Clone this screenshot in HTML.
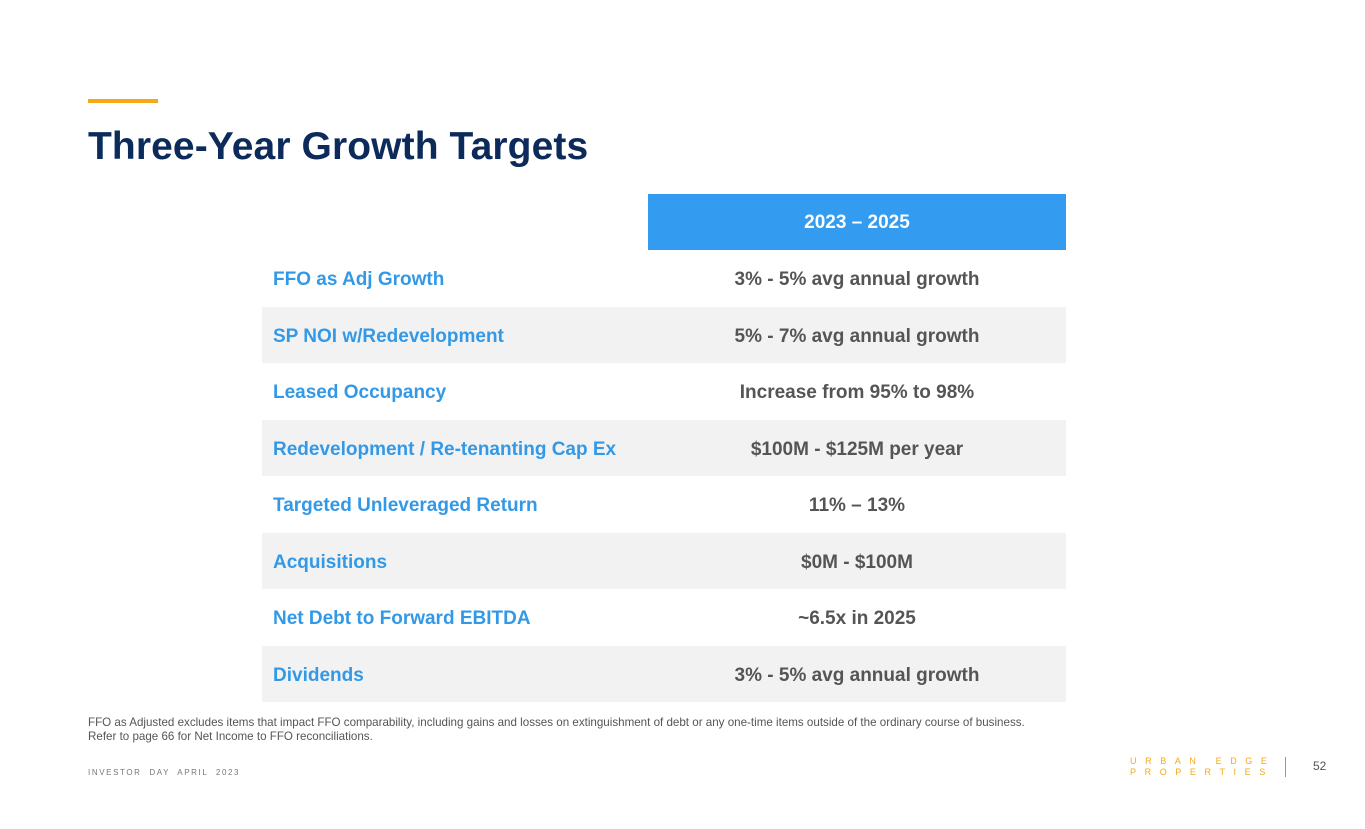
<!DOCTYPE html>
<html><head><meta charset="utf-8"><style>
body{margin:0;width:1365px;height:829px;background:#fff;position:relative;font-family:"Liberation Sans",sans-serif;overflow:hidden}
.abs{position:absolute}
.row{position:absolute;left:262px;width:804px;height:56.5px}
.lab{position:absolute;left:11px;top:2px;line-height:56.5px;font-size:19px;font-weight:bold;color:#3399e6}
.val{position:absolute;left:386px;top:2px;width:418px;text-align:center;line-height:56.5px;font-size:19px;font-weight:bold;color:#555}
</style></head><body>
<div class="abs" style="left:88px;top:99px;width:70px;height:4px;background:#f5a913"></div>
<div class="abs" style="left:88px;top:123px;font-size:39px;font-weight:bold;color:#0c2b5b;line-height:48px;letter-spacing:0.1px">Three-Year Growth Targets</div>
<div class="abs" style="left:648px;top:194px;width:418px;height:56px;background:#339cf0;color:#fff;font-size:19px;font-weight:bold;text-align:center;line-height:58px">2023 – 2025</div>
<div id="tbl"></div>
<div class="abs" style="left:88px;top:716px;font-size:11.6px;color:#555;line-height:14px">FFO as Adjusted excludes items that impact FFO comparability, including gains and losses on extinguishment of debt or any one-time items outside of the ordinary course of business.<br>Refer to page 66 for Net Income to FFO reconciliations.</div>
<div class="abs" style="left:88px;top:768px;font-size:8px;letter-spacing:1.6px;word-spacing:4px;color:#777">INVESTOR DAY APRIL 2023</div>
<div class="abs" style="left:1130px;top:756px;font-size:9px;letter-spacing:8.6px;color:#f5a913;line-height:11px">URBAN EDGE<br>PROPERTIES</div>
<div class="abs" style="left:1285px;top:757px;width:1px;height:20px;background:#999"></div>
<div class="abs" style="left:1313px;top:759px;font-size:12px;color:#555">52</div>
<script>
const labels=["FFO as Adj Growth","SP NOI w/Redevelopment","Leased Occupancy","Redevelopment / Re-tenanting Cap Ex","Targeted Unleveraged Return","Acquisitions","Net Debt to Forward EBITDA","Dividends"];
const values=["3% - 5% avg annual growth","5% - 7% avg annual growth","Increase from 95% to 98%","$100M - $125M per year","11% – 13%","$0M - $100M","~6.5x in 2025","3% - 5% avg annual growth"];
const t=document.getElementById('tbl');
labels.forEach((l,i)=>{
const r=document.createElement('div');r.className='row';


r.style.top=(250+i*56.5)+'px';r.style.background=i%2?'#f2f2f2':'#fff';
const a=document.createElement('div');a.className='lab';a.textContent=l;


const b=document.createElement('div');b.className='val';b.textContent=values[i];


r.appendChild(a);r.appendChild(b);t.appendChild(r);});
</script>
</body></html>
